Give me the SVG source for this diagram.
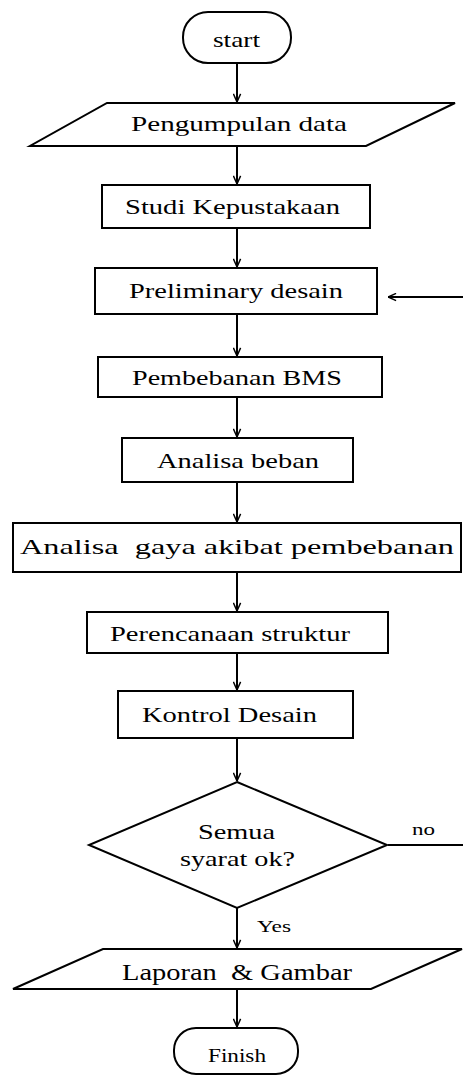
<svg xmlns="http://www.w3.org/2000/svg" width="463" height="1080" viewBox="0 0 463 1080">
<defs>
<style>
.s{fill:#fff;stroke:#000;stroke-width:2}
.t{font-family:"Liberation Serif","Times New Roman",serif;font-size:22px;fill:#000}
.c{stroke:#000;stroke-width:2;fill:none}
</style>
<marker id="ah" markerUnits="userSpaceOnUse" viewBox="0 0 10 10" refX="10" refY="5" markerWidth="9" markerHeight="9" orient="auto">
<path d="M1,1 L10,5 L1,9" fill="none" stroke="#000" stroke-width="1.6"/>
</marker>
</defs>
<rect width="463" height="1080" fill="#fff"/>
<g id="connectors">
<line class="c" x1="237" y1="63" x2="237" y2="102" marker-end="url(#ah)"/>
<line class="c" x1="237" y1="146" x2="237" y2="184" marker-end="url(#ah)"/>
<line class="c" x1="237" y1="228" x2="237" y2="267" marker-end="url(#ah)"/>
<line class="c" x1="237" y1="314" x2="237" y2="356" marker-end="url(#ah)"/>
<line class="c" x1="237" y1="397" x2="237" y2="437" marker-end="url(#ah)"/>
<line class="c" x1="237" y1="482" x2="237" y2="522" marker-end="url(#ah)"/>
<line class="c" x1="237" y1="572" x2="237" y2="611" marker-end="url(#ah)"/>
<line class="c" x1="237" y1="653" x2="237" y2="690" marker-end="url(#ah)"/>
<line class="c" x1="237" y1="738" x2="237" y2="781" marker-end="url(#ah)"/>
<line class="c" x1="237" y1="908" x2="237" y2="948" marker-end="url(#ah)"/>
<line class="c" x1="237" y1="989" x2="237" y2="1027" marker-end="url(#ah)"/>
<line class="c" x1="463" y1="297" x2="388" y2="297" marker-end="url(#ah)"/>
<line class="c" x1="388" y1="845" x2="463" y2="845"/>
<text class="t" x="412" y="835" style="font-size:17px" textLength="23" lengthAdjust="spacingAndGlyphs">no</text>
<text class="t" x="257" y="932" style="font-size:17px" textLength="34" lengthAdjust="spacingAndGlyphs">Yes</text>
</g>
<g id="start">
<rect class="s" x="183" y="12" width="108" height="51" rx="25" ry="25"/>
<text class="t" x="213" y="47" textLength="47" lengthAdjust="spacingAndGlyphs">start</text>
</g>
<g id="pengumpulan">
<polygon class="s" points="107,103 455,103 366,146 30,146"/>
<text class="t" x="131" y="131" textLength="216" lengthAdjust="spacingAndGlyphs">Pengumpulan data</text>
</g>
<g id="studi">
<rect class="s" x="102" y="185" width="268" height="43"/>
<text class="t" x="125" y="214" textLength="215" lengthAdjust="spacingAndGlyphs">Studi Kepustakaan</text>
</g>
<g id="preliminary">
<rect class="s" x="95" y="268" width="282" height="46"/>
<text class="t" x="129" y="298" textLength="214" lengthAdjust="spacingAndGlyphs">Preliminary desain</text>
</g>
<g id="pembebanan">
<rect class="s" x="98" y="357" width="284" height="40"/>
<text class="t" x="132" y="385" textLength="210" lengthAdjust="spacingAndGlyphs">Pembebanan BMS</text>
</g>
<g id="analisa-beban">
<rect class="s" x="122" y="438" width="231" height="44"/>
<text class="t" x="157" y="468" textLength="162" lengthAdjust="spacingAndGlyphs">Analisa beban</text>
</g>
<g id="analisa-gaya">
<rect class="s" x="13" y="523" width="448" height="49"/>
<text class="t" x="20" y="554" textLength="434" lengthAdjust="spacingAndGlyphs" xml:space="preserve">Analisa  gaya akibat pembebanan</text>
</g>
<g id="perencanaan">
<rect class="s" x="87" y="612" width="301" height="41"/>
<text class="t" x="110" y="641" textLength="240" lengthAdjust="spacingAndGlyphs">Perencanaan struktur</text>
</g>
<g id="kontrol">
<rect class="s" x="118" y="691" width="235" height="47"/>
<text class="t" x="142" y="722" textLength="175" lengthAdjust="spacingAndGlyphs">Kontrol Desain</text>
</g>
<g id="decision">
<polygon class="s" points="237,782 387,845 237,908 89,845"/>
<text class="t" x="198" y="839" textLength="77" lengthAdjust="spacingAndGlyphs">Semua</text>
<text class="t" x="180" y="866" textLength="115" lengthAdjust="spacingAndGlyphs">syarat ok?</text>
</g>
<g id="laporan">
<polygon class="s" points="103,949 462,949 371,989 13,989"/>
<text class="t" x="122" y="980" style="font-size:23px" textLength="230" lengthAdjust="spacingAndGlyphs" xml:space="preserve">Laporan  &amp; Gambar</text>
</g>
<g id="finish">
<rect class="s" x="174" y="1028" width="124" height="46" rx="22" ry="22"/>
<text class="t" x="208" y="1062" style="font-size:19px" textLength="58" lengthAdjust="spacingAndGlyphs">Finish</text>
</g>
</svg>
